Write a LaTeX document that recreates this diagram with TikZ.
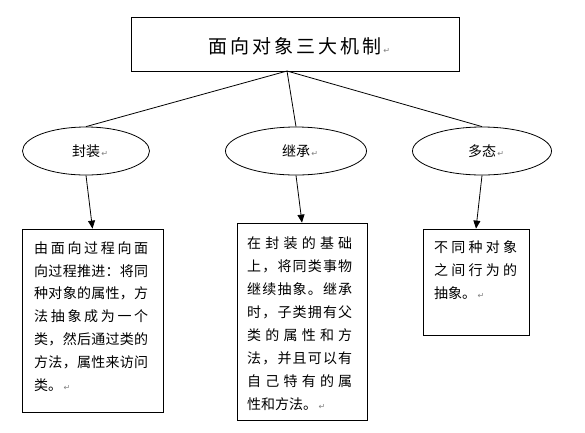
\documentclass[tikz,border=0pt]{standalone}
\usepackage{fontspec}
\setmainfont{Noto Sans CJK SC}
\newfontfamily\symf{DejaVu Sans}
\usetikzlibrary{shapes.geometric,arrows.meta}
\def\jfirst#1{#1\jrest}
\def\jrest#1{\ifx\relax#1\else\hfil#1\expandafter\jrest\fi}
\newcommand\jline[2]{\hbox to #1{\jfirst#2\relax}}
\newcommand\retmark{{\symf\fontsize{8}{8}\selectfont\color{gray}\,↵}}
\tikzset{
  boxnode/.style={draw, line width=0.8pt, inner sep=0pt},
  ellnode/.style={draw, ellipse, line width=0.8pt, inner sep=0pt, minimum height=48pt, font=\fontsize{14}{14}\selectfont},
  txt/.style={anchor=west, inner sep=0pt, font=\fontsize{14}{14}\selectfont},
  link/.style={line width=0.8pt},
  arr/.style={line width=0.8pt, -{Triangle[length=8pt,width=7pt]}}
}
\begin{document}
\begin{tikzpicture}[x=1pt,y=-1pt]
\useasboundingbox (0,0) rectangle (585,432);
% top box
\node[boxnode, minimum width=328pt, minimum height=54pt] (top) at (295,44) {};
\node[inner sep=0pt, font=\fontsize{19}{19}\selectfont] (title) at (295,46) {\jline{174pt}{面向对象三大机制}\rlap{\retmark}};
\coordinate (hub) at (287,71);
% ellipses
\node[ellnode, minimum width=127pt] (e1) at (86,151) {封装\rlap{\retmark}};
\node[ellnode, minimum width=141pt] (e2) at (296,151) {继承\rlap{\retmark}};
\node[ellnode, minimum width=139pt] (e3) at (482,151) {多态\rlap{\retmark}};
\draw[link] (hub) -- (e1.north);
\draw[link] (hub) -- (e2.north);
\draw[link] (hub) -- (e3.north);
% boxes
\node[boxnode, minimum width=141pt, minimum height=183pt] (b1) at (92.5,320.5) {};
\node[boxnode, minimum width=130pt, minimum height=197pt] (b2) at (302,321.5) {};
\node[boxnode, minimum width=106pt, minimum height=106pt] (b3) at (476,282) {};
\draw[arr] (e1.south) -- (b1.north);
\draw[arr] (e2.south) -- (b2.north);
\draw[arr] (e3.south) -- (b3.north);
% left box text
\node[txt] (t11) at (34,248) {\jline{114pt}{由面向过程向面}};
\node[txt] (t12) at (34,270.8) {\jline{114pt}{向过程推进：将同}};
\node[txt] (t13) at (34,293.6) {\jline{114pt}{种对象的属性，方}};
\node[txt] (t14) at (34,316.4) {\jline{114pt}{法抽象成为一个}};
\node[txt] (t15) at (34,339.2) {\jline{114pt}{类，然后通过类的}};
\node[txt] (t16) at (34,362) {\jline{114pt}{方法，属性来访问}};
\node[txt] (t17) at (34,384.8) {类。\retmark};
% middle box text
\node[txt] (t21) at (247,243) {\jline{105pt}{在封装的基础}};
\node[txt] (t22) at (247,266) {\jline{105pt}{上，将同类事物}};
\node[txt] (t23) at (247,289) {\jline{105pt}{继续抽象。继承}};
\node[txt] (t24) at (247,312) {\jline{105pt}{时，子类拥有父}};
\node[txt] (t25) at (247,335) {\jline{105pt}{类的属性和方}};
\node[txt] (t26) at (247,358) {\jline{105pt}{法，并且可以有}};
\node[txt] (t27) at (247,381) {\jline{105pt}{自己特有的属}};
\node[txt] (t28) at (247,404) {性和方法。\retmark};
% right box text
\node[txt] (t31) at (434,247) {\jline{83pt}{不同种对象}};
\node[txt] (t32) at (434,270) {\jline{83pt}{之间行为的}};
\node[txt] (t33) at (434,293) {抽象。\retmark};
\end{tikzpicture}
\end{document}
